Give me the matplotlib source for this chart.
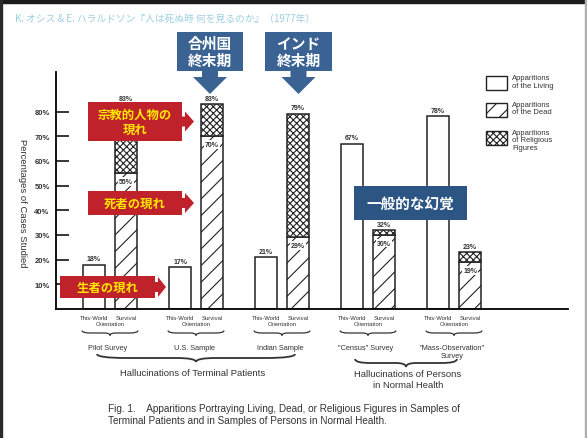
import matplotlib
matplotlib.use("Agg")
import matplotlib.pyplot as plt
from matplotlib.patches import Rectangle, Polygon, PathPatch
from matplotlib.path import Path
from matplotlib.transforms import Affine2D
import numpy as np

# ---- data -------------------------------------------------------------
groups = ["Pilot Survey", "U.S. Sample", "Indian Sample",
          '"Census" Survey', '"Mass-Observation"\nSurvey']
living = [18, 17, 21, 67, 78]          # This-World orientation
dead = [55, 70, 29, 30, 19]            # Survival orientation, dead part
survival_total = [83, 83, 79, 32, 23]  # Survival orientation, total
y_ticks = [10, 20, 30, 40, 50, 60, 70, 80]
legend_labels = ["Apparitions\nof the Living", "Apparitions\nof the Dead",
                 "Apparitions\nof Religious\nFigures"]

W, H = 587, 439
fig = plt.figure(figsize=(W / 100, H / 100), dpi=100)
fig.patch.set_facecolor("white")

# pixel coordinates measured from the top-left corner
PX = Affine2D().scale(1 / 100, -1 / 100).translate(0, H / 100) + fig.dpi_scale_trans

SANS = "Liberation Sans"
JP = ["Noto Sans CJK JP", "DejaVu Sans"]

def ptext(x, y, s, **kw):
    kw.setdefault("family", SANS)
    fig.text(x, y, s, transform=PX, **kw)

# frame of the slide
fig.add_artist(Rectangle((0, 0), W, 4, transform=PX, color="#1c1c1c", zorder=20))
fig.add_artist(Rectangle((0, 0), 2, H, transform=PX, color="#2a2a2a", zorder=20))
fig.add_artist(Rectangle((W - 2, 0), 2, H, transform=PX, color="#b0b0b0", zorder=20))

# ---- axes -------------------------------------------------------------
ax_l, ax_r, ax_t, ax_b = 56, 568, 73, 310
ax = fig.add_axes([ax_l / W, 1 - ax_b / H, (ax_r - ax_l) / W, (ax_b - ax_t) / H])
ax.set_facecolor("none")
x_unit = 86.0
xc0 = 110.0
ax.set_xlim((ax_l - xc0) / x_unit, (ax_r - xc0) / x_unit)
ax.set_ylim(0, 96)
for s in ("top", "right"):
    ax.spines[s].set_visible(False)
ax.spines["left"].set_linewidth(1.3)
ax.spines["bottom"].set_linewidth(1.3)
ax.set_xticks([])
ax.set_yticks(y_ticks)
ax.set_yticklabels([f"{v}%" for v in y_ticks], family=SANS, fontsize=5.5,
                   fontweight="bold", color="#333333")
ax.tick_params(axis="y", direction="in", length=9, width=1.1, pad=4.5)

x = np.arange(len(groups))
off = 16 / x_unit
bw = 22 / x_unit
religious = [t - d for t, d in zip(survival_total, dead)]

plt.rcParams["hatch.linewidth"] = 0.8
ax.bar(x - off, living, bw, color="white", edgecolor="#222222", linewidth=1.1)
ax.bar(x + off, dead, bw, color="white", edgecolor="#222222", linewidth=1.1,
       hatch="//")
ax.bar(x + off, religious, bw, bottom=dead, color="white", edgecolor="#222222",
       linewidth=1.1, hatch="xxxxx")

lab_kw = dict(family=SANS, fontsize=5, fontweight="bold", color="#333333",
              ha="center")
for i in range(len(groups)):
    ax.text(x[i] - off, living[i] + 1, f"{living[i]}%", va="bottom", **lab_kw)
    ax.text(x[i] + off, survival_total[i] + 1, f"{survival_total[i]}%",
            va="bottom", **lab_kw)
    ax.text(x[i] + off, dead[i] - 3.3, f"{dead[i]}%", va="center",
            bbox=dict(boxstyle="square,pad=0.12", fc="white", ec="none"),
            **lab_kw)

ax.set_ylabel("Percentages of Cases Studied", family=SANS, fontsize=6.8,
              rotation=270, color="#333333", labelpad=0)
ax.yaxis.set_label_coords(-38 / (ax_r - ax_l), 0.45)

# ---- category labels and braces ----------------------------------------
def brace(x0, x1, y, depth, lw, color="#333333"):
    xm = (x0 + x1) / 2
    verts = [(x0, y - depth), (x0, y), (x0 + 0.15 * (x1 - x0), y),
             (xm - 0.1 * (x1 - x0), y), (xm, y), (xm, y + depth),
             (xm, y), (xm + 0.1 * (x1 - x0), y),
             (x1 - 0.15 * (x1 - x0), y), (x1, y), (x1, y - depth)]
    codes = [Path.MOVETO, Path.CURVE3, Path.CURVE3, Path.LINETO,
             Path.CURVE3, Path.CURVE3, Path.CURVE3, Path.CURVE3,
             Path.LINETO, Path.CURVE3, Path.CURVE3]
    fig.add_artist(PathPatch(Path(verts, codes), transform=PX, fc="none",
                             ec=color, lw=lw))

for i, g in enumerate(groups):
    cx = xc0 + i * x_unit
    ptext(cx - off * x_unit, 318, "This-World", fontsize=4.2, ha="center",
          va="center", color="#333333")
    ptext(cx + off * x_unit, 318, "Survival", fontsize=4.2, ha="center",
          va="center", color="#333333")
    ptext(cx, 325, "Orientation", fontsize=4.2, ha="center", va="center",
          color="#333333")
    brace(cx - 28, cx + 28, 334, 2.5, 0.9)
    ptext(cx - 2, 345, g, fontsize=5.3, ha="center", va="top",
          color="#333333", linespacing=1.1)

brace(97, 295, 359, 4, 1.3)
brace(355, 457, 364, 4, 1.3)
ptext(193, 374, "Hallucinations of Terminal Patients", fontsize=6.8,
      ha="center", va="center", color="#333333")
ptext(408, 380, "Hallucinations of Persons\nin Normal Health", fontsize=6.8,
      ha="center", va="center", color="#333333", linespacing=1.15)
ptext(108, 404, "Fig. 1.    Apparitions Portraying Living, Dead, or Religious "
      "Figures in Samples of\nTerminal Patients and in Samples of Persons in "
      "Normal Health.", fontsize=7.2, ha="left", va="top", color="#333333",
      linespacing=1.2)

# ---- legend -----------------------------------------------------------
for k, (yb, hatch) in enumerate([(77, None), (104, "//"), (132, "xxxxx")]):
    fig.add_artist(Rectangle((486, yb), 21, 14, transform=PX, fc="white",
                             ec="#222222", lw=1.0, hatch=hatch))
    ptext(512, yb - 2, legend_labels[k], fontsize=5.5, ha="left", va="top",
          color="#333333", linespacing=1.1)

# ---- header -----------------------------------------------------------
ptext(15, 19, "K. オシス & E. ハラルドソン『人は死ぬ時 何を見るのか』（1977年）",
      fontsize=7, ha="left", va="center", color="#9ccfe0", family=JP)

# ---- callouts ---------------------------------------------------------
BLUE = "#3a6394"
RED = "#c0222b"
YELLOW = "#ffe800"

def down_callout(x0, x1, y0, y1, tip, text):
    cx = (x0 + x1) / 2
    pts = [(x0, y0), (x1, y0), (x1, y1), (cx + 8, y1), (cx + 8, y1 + 6),
           (cx + 17, y1 + 6), (cx, tip), (cx - 17, y1 + 6), (cx - 8, y1 + 6),
           (cx - 8, y1), (x0, y1)]
    fig.add_artist(Polygon(pts, closed=True, transform=PX, fc=BLUE, ec="none"))
    ptext(cx, (y0 + y1) / 2, text, fontsize=10.6, fontweight="bold",
          color="white", ha="center", va="center", family=JP, linespacing=1.1)

def right_callout(x0, x1, y0, y1, tip, text):
    cy = (y0 + y1) / 2
    pts = [(x0, y0), (x1, y0), (x1, cy - 5), (x1 + 3, cy - 5),
           (x1 + 3, cy - 10), (tip, cy), (x1 + 3, cy + 10), (x1 + 3, cy + 5),
           (x1, cy + 5), (x1, y1), (x0, y1)]
    fig.add_artist(Polygon(pts, closed=True, transform=PX, fc=RED, ec="none"))
    ptext((x0 + x1) / 2, cy, text, fontsize=8.9, fontweight="bold",
          color=YELLOW, ha="center", va="center", family=JP, linespacing=1.2)

down_callout(177, 243, 33, 72, 95, "合州国\n終末期")
down_callout(265, 332, 33, 72, 95, "インド\n終末期")

right_callout(88, 182, 103, 142, 194, "宗教的人物の\n現れ")
right_callout(88, 182, 192, 216, 194, "死者の現れ")
right_callout(60, 155, 277, 299, 166, "生者の現れ")

fig.add_artist(Rectangle((354, 187), 113, 34, transform=PX, fc="#2c5584",
                         ec="none"))
ptext(410.5, 204, "一般的な幻覚", fontsize=10.5, fontweight="bold", color="white",
      ha="center", va="center", family=JP)

fig.savefig("out.png", dpi=100, facecolor="white")
